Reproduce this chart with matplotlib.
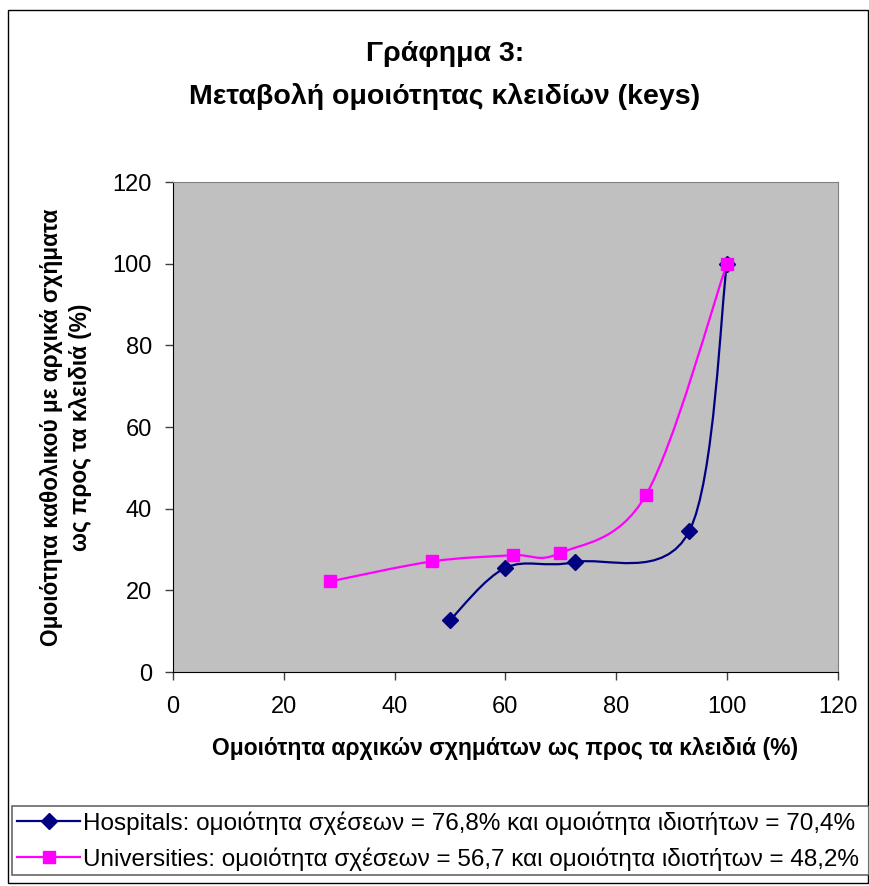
import matplotlib.pyplot as plt
from matplotlib.path import Path
from matplotlib.patches import PathPatch, Rectangle
from matplotlib.lines import Line2D

plt.rcParams['font.family'] = ['Liberation Sans', 'DejaVu Sans']

hosp_x = [50.0, 60.0, 72.5, 93.2, 100.0]
hosp_y = [12.7, 25.5, 26.9, 34.5, 100.0]

univ_x = [28.4, 46.8, 61.3, 69.8, 85.4, 100.0]
univ_y = [22.2, 27.1, 28.6, 29.1, 43.4, 100.0]

hosp_label = "Hospitals: ομοιότητα σχέσεων = 76,8% και ομοιότητα ιδιοτήτων = 70,4%"
univ_label = "Universities: ομοιότητα σχέσεων = 56,7 και ομοιότητα ιδιοτήτων = 48,2%"

ticks = [0, 20, 40, 60, 80, 100, 120]


def smooth_path(xs, ys):
    # catmull-rom style bezier segments, like a spreadsheet "smoothed line"
    pts = list(zip(xs, ys))
    verts = [pts[0]]
    codes = [Path.MOVETO]
    n = len(pts)
    for i in range(n - 1):
        p0 = pts[i - 1] if i > 0 else pts[i]
        p1 = pts[i]
        p2 = pts[i + 1]
        p3 = pts[i + 2] if i + 2 < n else pts[i + 1]
        c1 = (p1[0] + (p2[0] - p0[0]) / 6, p1[1] + (p2[1] - p0[1]) / 6)
        c2 = (p2[0] - (p3[0] - p1[0]) / 6, p2[1] - (p3[1] - p1[1]) / 6)
        verts += [c1, c2, p2]
        codes += [Path.CURVE4] * 3
    return Path(verts, codes)


fig = plt.figure(figsize=(8.69, 8.86), dpi=100)
ax = fig.add_axes([0.199, 0.2415, 0.765, 0.553])
ax.set_facecolor('#C0C0C0')

navy = '#000080'
pink = '#FF00FF'

ax.add_patch(PathPatch(smooth_path(hosp_x, hosp_y), fill=False, edgecolor=navy, lw=1.6, zorder=3))
ax.add_patch(PathPatch(smooth_path(univ_x, univ_y), fill=False, edgecolor=pink, lw=1.6, zorder=3))
ax.plot(hosp_x, hosp_y, ls='none', marker='D', ms=8, color=navy, zorder=4)
ax.plot(univ_x, univ_y, ls='none', marker='s', ms=9, color=pink, zorder=4)

ax.set_xlim(0, 120)
ax.set_ylim(0, 120)
ax.set_xticks(ticks)
ax.set_yticks(ticks)
ax.tick_params(direction='out', length=6, width=1, color='#404040', labelsize=17)
ax.tick_params(axis='x', pad=11)
ax.tick_params(axis='y', pad=9)
for s in ['top', 'right']:
    ax.spines[s].set_color('#808080')
for s in ['left', 'bottom']:
    ax.spines[s].set_color('black')

ax.set_xlabel("Ομοιότητα αρχικών σχημάτων ως προς τα κλειδιά (%)",
              fontsize=16.5, fontweight='bold', labelpad=14)
ax.set_ylabel("Ομοιότητα καθολικού με αρχικά σχήματα\nως προς τα κλειδιά (%)",
              fontsize=16.3, fontweight='bold', labelpad=15, linespacing=1.3)

fig.text(0.512, 0.939, "Γράφημα 3:", ha='center', va='center', fontsize=20.5, fontweight='bold')
fig.text(0.512, 0.891, "Μεταβολή ομοιότητας κλειδίων (keys)", ha='center', va='center',
         fontsize=20.5, fontweight='bold')

handles = [Line2D([], [], color=navy, lw=1.6, marker='D', ms=8),
           Line2D([], [], color=pink, lw=1.6, marker='s', ms=8)]
leg = fig.legend(handles, [hosp_label, univ_label], loc='lower left',
                 bbox_to_anchor=(0.014, 0.012, 0.986, 0.08), mode='expand',
                 fontsize=17.5, frameon=True, fancybox=False, handlelength=2.6,
                 handletextpad=0.1, borderpad=0.2, labelspacing=0.5, borderaxespad=0)
leg.get_frame().set_edgecolor('#404040')
leg.get_frame().set_linewidth(1.2)

fig.patches.append(Rectangle((0.009, 0.003), 0.99, 0.986, transform=fig.transFigure,
                             fill=False, edgecolor='black', lw=1))

fig.savefig('out.png', dpi=100)
